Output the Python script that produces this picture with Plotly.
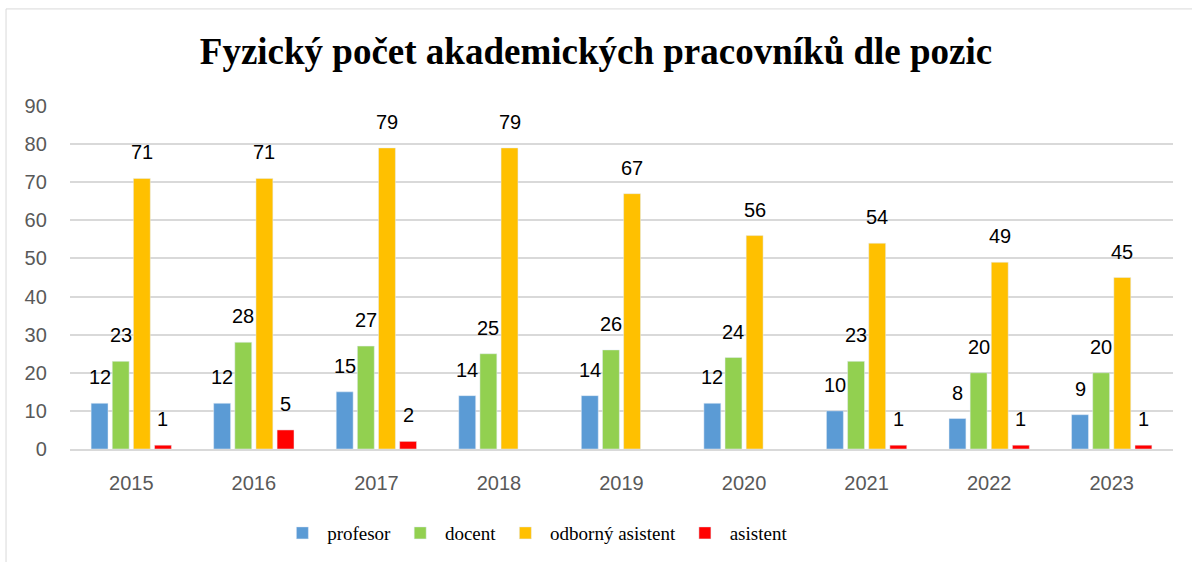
import plotly.graph_objects as go

years = ["2015", "2016", "2017", "2018", "2019", "2020", "2021", "2022", "2023"]
profesor = [12, 12, 15, 14, 14, 12, 10, 8, 9]
docent = [23, 28, 27, 25, 26, 24, 23, 20, 20]
odborny_asistent = [71, 71, 79, 79, 67, 56, 54, 49, 45]
asistent = [1, 5, 2, None, None, None, 1, 1, 1]

series = [
    ("profesor", profesor, "#5b9bd5"),
    ("docent", docent, "#92d050"),
    ("odborný asistent", odborny_asistent, "#ffc000"),
    ("asistent", asistent, "#ff0000"),
]

W, H = 1192, 562
ML, MR, MT, MB = 70, 19, 106, 113
BARGAP = 0.31
BARGROUPGAP = 0.2

NB = "\u00a0"
fig = go.Figure()
for name, vals, color in series:
    fig.add_trace(go.Bar(
        x=years, y=vals, name=NB + name + NB, marker_color=color,
    ))

# data labels above bars (offsets derived from the grouped-bar layout)
cat_px = (W - ML - MR) / len(years)
slot_px = cat_px * (1 - BARGAP) / len(series)
for k, (name, vals, color) in enumerate(series):
    dx = (k - (len(series) - 1) / 2) * slot_px
    for i, v in enumerate(vals):
        if v is None:
            continue
        fig.add_annotation(
            x=i, y=v, xref="x", yref="y", text=str(v), showarrow=False,
            xanchor="center", yanchor="bottom", xshift=dx, yshift=13,
            font=dict(family="Liberation Sans", size=20, color="#000000"),
        )

fig.update_layout(
    width=W, height=H,
    paper_bgcolor="white", plot_bgcolor="white",
    margin=dict(l=ML, r=MR, t=MT, b=MB, autoexpand=False),
    barmode="group", bargap=BARGAP, bargroupgap=BARGROUPGAP,
    title=dict(
        text="<b>Fyzický počet akademických pracovníků dle pozic</b>",
        font=dict(family="Liberation Serif", size=37, color="#000000"),
        x=0.5, xanchor="center", y=1 - 51 / H, yanchor="middle",
    ),
    xaxis=dict(
        type="category", range=[-0.5, len(years) - 0.5],
        showgrid=False, showline=True, linecolor="#d9d9d9", linewidth=1.5,
        tickfont=dict(family="Liberation Sans", size=20, color="#595959"),
        ticks="outside", ticklen=15, tickcolor="rgba(0,0,0,0)",
    ),
    yaxis=dict(
        range=[0, 90], dtick=10, showgrid=True, gridcolor="#d9d9d9", gridwidth=1.5,
        zeroline=False, showline=False,
        tickfont=dict(family="Liberation Sans", size=20, color="#595959"),
        ticksuffix="    ",
    ),
    legend=dict(
        orientation="h", x=0.426, xanchor="center", y=-0.245, yanchor="middle",
        font=dict(family="Liberation Serif", size=19, color="#000000"),
    ),
    showlegend=True,
)

fig.add_shape(
    type="rect", xref="paper", yref="paper",
    x0=-0.058, x1=1.02, y0=-0.5, y1=1.283,
    line=dict(color="#d9d9d9", width=1), fillcolor="rgba(0,0,0,0)", layer="below",
)

fig.write_html("out.html", config={"displayModeBar": False},
               post_script="document.body.style.margin='0';")
